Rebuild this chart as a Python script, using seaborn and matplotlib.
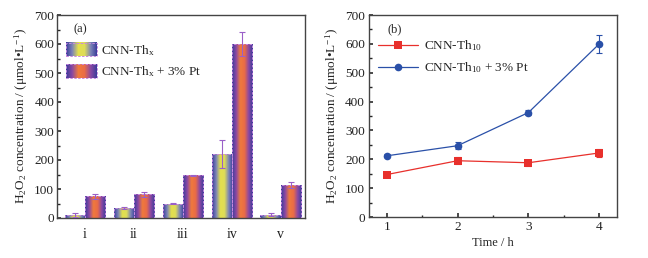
import numpy as np
import pandas as pd
import matplotlib
matplotlib.use("Agg")
import matplotlib.pyplot as plt
import seaborn as sns
from matplotlib.colors import LinearSegmentedColormap
from matplotlib.legend_handler import HandlerBase
from matplotlib.patches import Rectangle
from matplotlib.image import BboxImage
from matplotlib.transforms import Bbox, TransformedBbox
from matplotlib.ticker import MultipleLocator, AutoMinorLocator

# ---- data (a)
categories = ["i", "ii", "iii", "iv", "v"]
series_a = ["CNN-Th$_x$", "CNN-Th$_x$ + 3% Pt"]
vals_th = [10, 35, 50, 222, 12]
err_th = [7, 4, 2, 48, 5]
vals_pt = [75, 82, 148, 600, 113]
err_pt = [8, 8, 2, 42, 10]

# ---- data (b)
time_h = [1, 2, 3, 4]
series_b = ["CNN-Th$_{10}$", "CNN-Th$_{10}$ + 3% Pt"]
red_vals = [147, 195, 188, 222]
red_err = [8, 12, 10, 15]
blue_vals = [212, 247, 362, 600]
blue_err = [5, 12, 8, 32]

sns.set_theme(style="ticks")
plt.rcParams["font.family"] = ["Liberation Serif", "DejaVu Serif"]
plt.rcParams["mathtext.fontset"] = "custom"
plt.rcParams["mathtext.rm"] = "Liberation Serif"
plt.rcParams["mathtext.it"] = "Liberation Serif:italic"
plt.rcParams["mathtext.default"] = "rm"
plt.rcParams["xtick.direction"] = "in"
plt.rcParams["ytick.direction"] = "in"

fig = plt.figure(figsize=(6.48, 2.58), dpi=100)
ax1 = fig.add_axes([57/648, 40/258, 248/648, 203/258])
ax2 = fig.add_axes([369/648, 41/258, 248/648, 202/258])

cmap1 = LinearSegmentedColormap.from_list("g1", ["#3a3c9a", "#7c84b8", "#e4e04c", "#dedc58", "#7c84b8", "#3a3c9a"])
cmap2 = LinearSegmentedColormap.from_list("g2", ["#3a3c9a", "#8a48a4", "#f07a3c", "#ea6c46", "#8a48a4", "#3a3c9a"])
grad = np.linspace(0, 1, 256).reshape(1, -1)
edge_col = "#c888e0"
err_col = "#9a60c8"
dash = (0, (2.5, 1.5))

df_a = pd.DataFrame({
    "cat": categories * 2,
    "val": vals_th + vals_pt,
    "series": [series_a[0]] * 5 + [series_a[1]] * 5,
})
sns.barplot(data=df_a, x="cat", y="val", hue="series", hue_order=series_a,
            order=categories, ax=ax1, legend=False, width=0.82,
            palette=["#e4e04c", "#f07a3c"], errorbar=None)

bars = [p for p in ax1.patches if isinstance(p, Rectangle)]
errs = err_th + err_pt
vals = vals_th + vals_pt
for i, p in enumerate(bars[:10]):
    x0, y0 = p.get_x(), p.get_y()
    w, h = p.get_width(), p.get_height()
    cm = cmap1 if i < 5 else cmap2
    im = ax1.imshow(grad, cmap=cm, aspect="auto", extent=[x0, x0 + w, y0, y0 + h],
                    interpolation="bilinear", zorder=2)
    im.set_clip_path(p)
    p.set_facecolor("none")
    p.set_edgecolor(edge_col)
    p.set_linestyle(dash)
    p.set_linewidth(0.7)
    p.set_zorder(3)
    ax1.errorbar(x0 + w / 2, vals[i], yerr=errs[i], color=err_col, capsize=2.5,
                 elinewidth=0.8, capthick=0.8, zorder=4, fmt="none")

ax1.set_xlim(-0.57, 4.5)
ax1.set_ylim(0, 700)
ax1.yaxis.set_major_locator(MultipleLocator(100))
ax1.yaxis.set_minor_locator(AutoMinorLocator(2))
ax1.set_xlabel("")
ax1.set_ylabel("H$_2$O$_2$ concentration / (μmol•L$^{-1}$)", fontsize=9.5, labelpad=3)
ax1.tick_params(axis="x", length=0, pad=7, labelsize=10)
ax1.tick_params(axis="y", which="major", length=3, labelsize=9.5, pad=2)
ax1.tick_params(axis="y", which="minor", length=1.8)
ax1.text(0.065, 0.915, "(a)", transform=ax1.transAxes, fontsize=9)


class GradHandler(HandlerBase):
    def __init__(self, cmap):
        super().__init__()
        self.cmap = cmap

    def create_artists(self, legend, orig_handle, xdescent, ydescent, width, height, fontsize, trans):
        bb = Bbox.from_bounds(-xdescent, -ydescent, width, height)
        tbb = TransformedBbox(bb, trans)
        img = BboxImage(tbb, cmap=self.cmap, interpolation="bilinear")
        img.set_data(grad)
        rect = Rectangle((-xdescent, -ydescent), width, height, facecolor="none",
                         edgecolor=edge_col, linestyle=dash, linewidth=0.7,
                         transform=trans)
        return [img, rect]


h1 = Rectangle((0, 0), 1, 1)
h2 = Rectangle((0, 0), 1, 1)
ax1.legend([h1, h2], series_a, loc="upper left", bbox_to_anchor=(0.0, 0.91),
           frameon=False, fontsize=9.5, handlelength=2.3, handleheight=1.25,
           handletextpad=0.3, labelspacing=0.45, borderaxespad=0.3,
           handler_map={h1: GradHandler(cmap1), h2: GradHandler(cmap2)})

# ---- (b)
red = "#e8302c"
blue = "#2a50a8"
df_b = pd.DataFrame({
    "time": time_h * 2,
    "val": red_vals + blue_vals,
    "series": [series_b[0]] * 4 + [series_b[1]] * 4,
})
sns.lineplot(data=df_b, x="time", y="val", hue="series", hue_order=series_b,
             style="series", markers=["s", "o"], dashes=False,
             palette=[red, blue], ax=ax2, linewidth=0.9, markersize=5.5,
             markeredgewidth=0, errorbar=None)
ax2.errorbar(time_h, red_vals, yerr=red_err, fmt="none", ecolor=red, capsize=2.5,
             elinewidth=0.8, capthick=0.8)
ax2.errorbar(time_h, blue_vals, yerr=blue_err, fmt="none", ecolor=blue, capsize=2.5,
             elinewidth=0.8, capthick=0.8)
ax2.set_xlim(0.75, 4.25)
ax2.set_ylim(0, 700)
ax2.xaxis.set_major_locator(MultipleLocator(1))
ax2.xaxis.set_minor_locator(AutoMinorLocator(2))
ax2.yaxis.set_major_locator(MultipleLocator(100))
ax2.yaxis.set_minor_locator(AutoMinorLocator(2))
ax2.set_xlabel("Time / h", fontsize=9, labelpad=3)
ax2.set_ylabel("H$_2$O$_2$ concentration / (μmol•L$^{-1}$)", fontsize=9.5, labelpad=3)
ax2.tick_params(axis="both", which="major", length=3, labelsize=9.5, pad=3)
ax2.tick_params(axis="both", which="minor", length=1.8)
ax2.text(0.075, 0.915, "(b)", transform=ax2.transAxes, fontsize=9)
ax2.legend(loc="upper left", bbox_to_anchor=(0.0, 0.93), frameon=False, fontsize=9.5,
           handlelength=3.0, handletextpad=0.5, labelspacing=0.55, borderaxespad=0.3)

for ax in (ax1, ax2):
    for s in ax.spines.values():
        s.set_color("#444444")
        s.set_linewidth(1.0)
    ax.tick_params(colors="#333333", labelcolor="#222222")

fig.savefig("out.png", dpi=100)
